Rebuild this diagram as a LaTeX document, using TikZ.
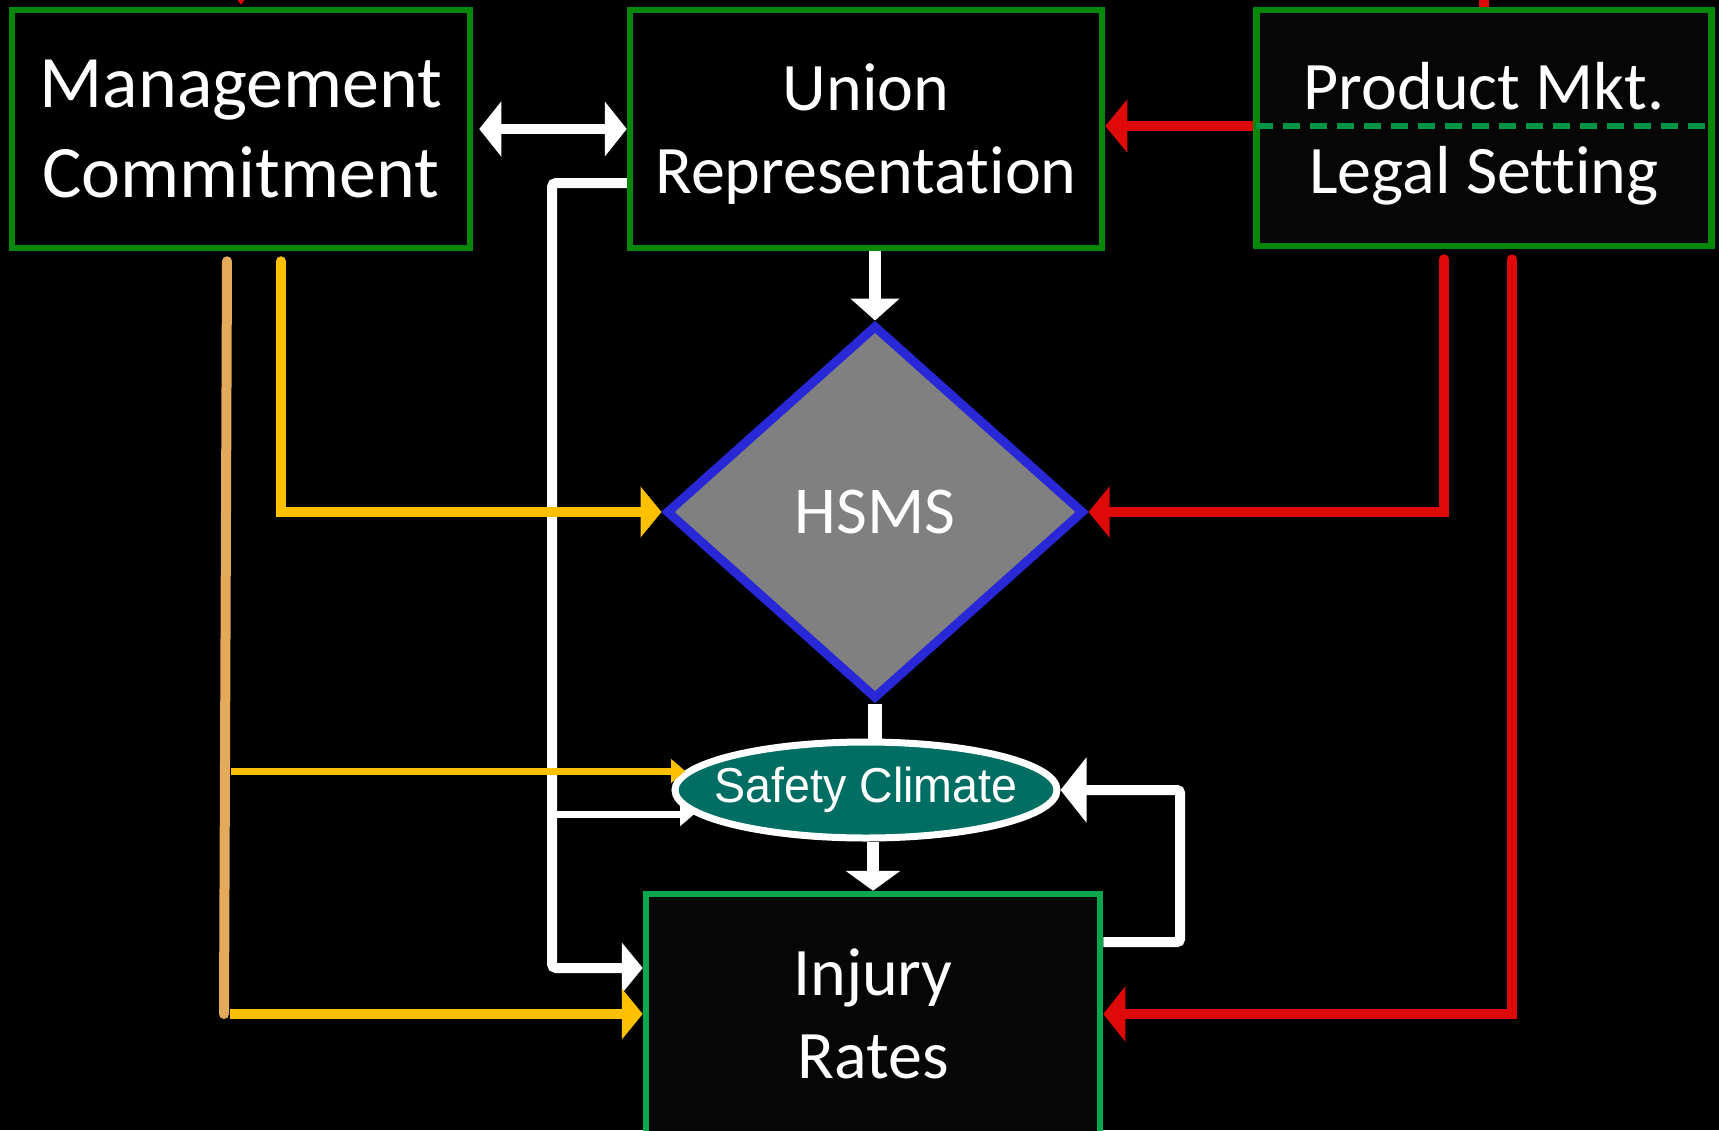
\documentclass[tikz,border=0pt]{standalone}
\usepackage{fontspec}
\setmainfont{Carlito}[Ligatures=NoCommon]
\newfontfamily\arialf{Liberation Sans}[FakeStretch=0.95]
\usetikzlibrary{arrows.meta,shapes.geometric,calc}
\definecolor{boxgreen}{RGB}{8,136,8}
\definecolor{injgreen}{RGB}{10,168,76}
\definecolor{dashgreen}{RGB}{0,150,70}
\definecolor{yel}{RGB}{255,192,0}
\definecolor{mctan}{RGB}{226,170,90}
\definecolor{redc}{RGB}{222,10,10}
\definecolor{hsblue}{RGB}{40,40,215}
\definecolor{hsgray}{RGB}{128,128,128}
\definecolor{scteal}{RGB}{0,110,98}
\definecolor{nearblack}{RGB}{6,6,6}
\begin{document}
\begin{tikzpicture}[x=1pt,y=-1pt,
  box/.style={draw=boxgreen, line width=6.5pt, fill=black, text=white, align=center,
    inner sep=0pt, minimum height=238pt, text depth=0pt},
  wline/.style={draw=white, line width=10pt},
  yline/.style={draw=yel, line width=10pt},
  rline/.style={draw=redc, line width=10pt},
  midtip/.style={-{Triangle[length=21pt,width=50pt]}},
  smalltip/.style={-{Triangle[length=14pt,width=23pt]}}
]
\useasboundingbox (0,0) rectangle (1719,1130);
\fill[black] (0,0) rectangle (1719,1130);
\clip (0,0) rectangle (1719,1130);
\coordinate (top) at (0,0);
\coordinate (wx) at (552,0);
\coordinate (fbx) at (1180,0);

% nodes
\node[box, minimum width=458pt, font=\fontsize{74}{90}\selectfont] (mc) at (241,129) {Management\\Commitment};
\node[box, minimum width=472pt, font=\fontsize{68}{83}\selectfont] (ur) at (866,129) {Union\\Representation};
\node[box, fill=nearblack, minimum width=455pt, minimum height=236pt, font=\fontsize{68}{84}\selectfont] (pl) at (1484,128) {Product Mkt.\\Legal Setting};
\node[box, draw=injgreen, fill=nearblack, minimum width=454pt, minimum height=240pt, font=\fontsize{68}{83}\selectfont] (ir) at (873,1014) {Injury\\Rates};
\node[diamond, draw=hsblue, line width=9pt, fill=hsgray, minimum width=418pt, minimum height=374pt,
  inner sep=0pt, text=white, font=\fontsize{67}{80}\selectfont] (hsms) at (875,512) {HSMS};
\node[ellipse, draw=white, line width=7pt, fill=scteal, minimum width=382pt, minimum height=96pt,
  inner xsep=-30pt, inner ysep=0pt, text=white, font=\arialf\fontsize{49}{56}\selectfont] (sc) at (866,790) {Safety Climate};

% dashed divider in Product box
\draw[dashgreen, line width=6pt, dash pattern=on 17pt off 10pt] ([yshift=2pt,xshift=3pt]pl.west) -- ([yshift=2pt,xshift=-3pt]pl.east);

% stubs at top edge
\draw[rline] (pl.north) -- ([yshift=10pt]pl.north |- top);
\draw[redc, line width=4pt, -{Triangle[length=10pt,width=14pt]}] ([yshift=40pt]mc.north) -- ([yshift=2pt]mc.north);

% white connectors
\draw[white, line width=10pt, {Triangle[length=22pt,width=54pt]}-{Triangle[length=22pt,width=54pt]}]
  ([xshift=6pt]mc.east) -- (ur.west);
\draw[wline, midtip, rounded corners=4pt] ([yshift=-54pt]ur.west) -| ([yshift=46pt]ir.west -| wx) -- ([yshift=46pt]ir.west);
\draw[white, line width=7pt, smalltip] (sc.188 -| wx) -- (sc.188);
\draw[white, line width=12pt, -{Triangle[length=22pt,width=48pt]}] (hsms.north |- ur.south) -- (hsms.north);
\draw[white, line width=14pt] (hsms.south) -- (hsms.south |- sc.north);
\draw[white, line width=12pt, -{Triangle[length=20pt,width=54pt]}] (sc.south -| ir.north) -- (ir.north);
\draw[wline, -{Triangle[length=26pt,width=64pt]}, rounded corners=3pt]
  ([yshift=72pt]ir.east) -| (sc.east -| fbx) -- (sc.east);

% management (yellow / tan) connectors
\coordinate (tanTop) at ([xshift=-14pt,yshift=-10pt]mc.south);
\coordinate (tanBot) at ([xshift=-3pt]tanTop |- ir.west);
\draw[yline, line cap=round, midtip] ([xshift=40pt,yshift=-10pt]mc.south) |- (hsms.west);
\draw[mctan, line width=10pt, line cap=round] (tanTop) -- (tanBot);
\draw[yline, midtip] ([xshift=6pt]tanBot) -- (ir.west);
\draw[yel, line width=7pt, smalltip] ([xshift=4pt]sc.174.5 -| tanTop) -- (sc.174.5);

% product / legal (red) connectors
\draw[rline, -{Triangle[length=22pt,width=52pt]}] ([yshift=2pt]pl.west) -- ([yshift=2pt]pl.west -| ur.east);
\draw[rline, line cap=round, midtip] ([xshift=-40pt,yshift=-10pt]pl.south) |- (hsms.east);
\draw[rline, line cap=round, -{Triangle[length=22pt,width=54pt]}] ([xshift=28pt,yshift=-10pt]pl.south) |- (ir.east);
\end{tikzpicture}
\end{document}
